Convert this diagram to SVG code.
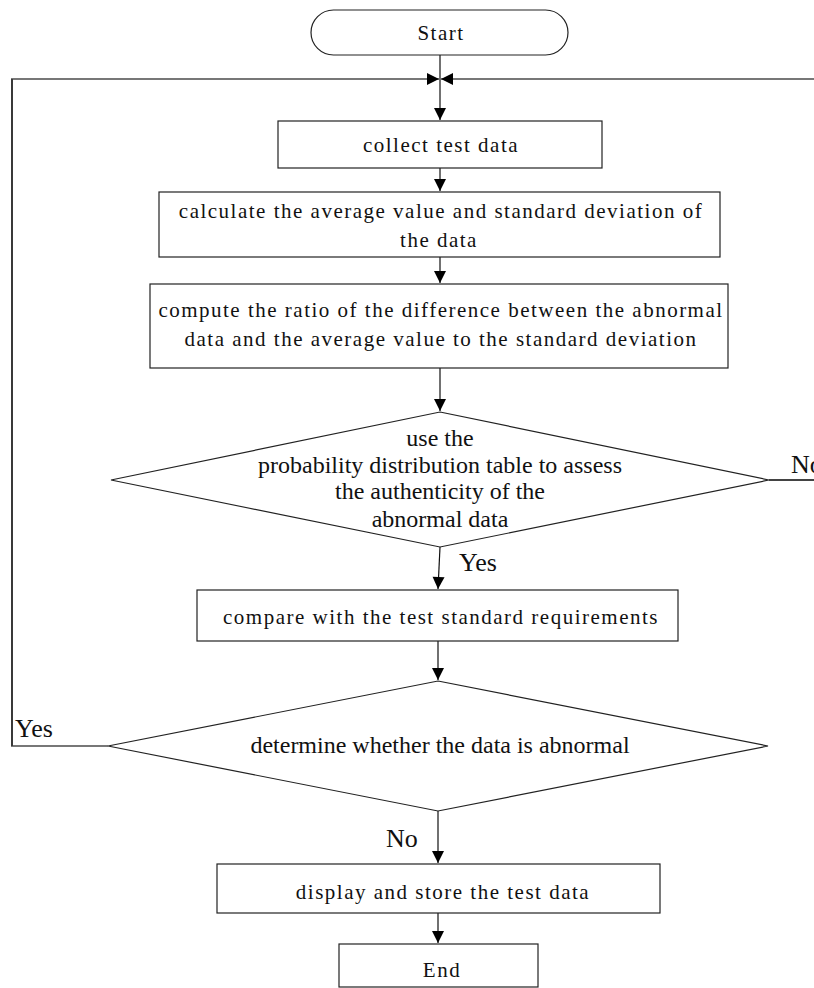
<svg xmlns="http://www.w3.org/2000/svg" width="814" height="988" viewBox="0 0 814 988">
<style>
.shape{fill:#fff;stroke:#222;stroke-width:1.2}
.t{font-family:"Liberation Serif","Times New Roman",serif;font-size:21px;letter-spacing:1.5px;fill:#111;text-anchor:middle}
.d{font-family:"Liberation Serif","Times New Roman",serif;font-size:24px;fill:#111;text-anchor:middle}
.lbl{font-family:"Liberation Serif","Times New Roman",serif;font-size:26px;fill:#111}
.c{fill:none;stroke:#111;stroke-width:1.2}
.g{fill:none;stroke:#777;stroke-width:2}
</style>
<defs>
<marker id="ah" markerUnits="userSpaceOnUse" markerWidth="14" markerHeight="14" viewBox="0 0 14 14" refX="13" refY="7" orient="auto">
<path d="M1,1 L13,7 L1,13 Z" fill="#000"/>
</marker>
</defs>
<g id="connectors">
<path class="c" d="M440,55 V120" marker-end="url(#ah)"/>
<path class="g" d="M108,746 H12 V79 H439" marker-end="url(#ah)"/>
<path class="c" d="M12,746 V79"/>
<path class="g" d="M769,480 H830 V79 H441" marker-end="url(#ah)"/>
<path class="c" d="M769,480 H814"/>
<path class="c" d="M440,168 V191" marker-end="url(#ah)"/>
<path class="c" d="M440,257 V283" marker-end="url(#ah)"/>
<path class="c" d="M440,368 V411" marker-end="url(#ah)"/>
<path class="c" d="M440,547 L438,589" marker-end="url(#ah)"/>
<path class="c" d="M438,641 V680" marker-end="url(#ah)"/>
<path class="c" d="M438,811 V863" marker-end="url(#ah)"/>
<path class="c" d="M438,913 V943" marker-end="url(#ah)"/>
<text class="lbl" x="459" y="571">Yes</text>
<text class="lbl" x="791" y="473">No</text>
<text class="lbl" x="15" y="737">Yes</text>
<text class="lbl" x="386" y="847">No</text>
</g>
<g id="start">
<rect class="shape" x="311" y="10" width="257" height="45" rx="22.5"/>
<text class="t" x="441" y="40">Start</text>
</g>
<g id="collect">
<rect class="shape" x="278" y="121" width="324" height="47"/>
<text class="t" x="441" y="152">collect test data</text>
</g>
<g id="calculate">
<rect class="shape" x="159" y="192" width="561" height="65"/>
<text class="t" x="441" y="218">calculate the average value and standard deviation of</text>
<text class="t" x="439" y="247">the data</text>
</g>
<g id="compute">
<rect class="shape" x="150" y="284" width="578" height="84"/>
<text class="t" x="441" y="317">compute the ratio of the difference between the abnormal</text>
<text class="t" x="441" y="346">data and the average value to the standard deviation</text>
</g>
<g id="assess">
<polygon class="shape" points="440,412 769,480 440,547 111,480"/>
<text class="d" x="440" y="446">use the</text>
<text class="d" x="440" y="473">probability distribution table to assess</text>
<text class="d" x="440" y="499">the authenticity of the</text>
<text class="d" x="440" y="527">abnormal data</text>
</g>
<g id="compare">
<rect class="shape" x="197" y="590" width="481" height="51"/>
<text class="t" x="441" y="624">compare with the test standard requirements</text>
</g>
<g id="determine">
<polygon class="shape" points="438,681 768,746 438,811 108,746"/>
<text class="d" x="440" y="753">determine whether the data is abnormal</text>
</g>
<g id="display">
<rect class="shape" x="217" y="864" width="443" height="49"/>
<text class="t" x="443" y="899">display and store the test data</text>
</g>
<g id="end">
<rect class="shape" x="339" y="944" width="199" height="43"/>
<text class="t" x="442" y="977">End</text>
</g>
</svg>
